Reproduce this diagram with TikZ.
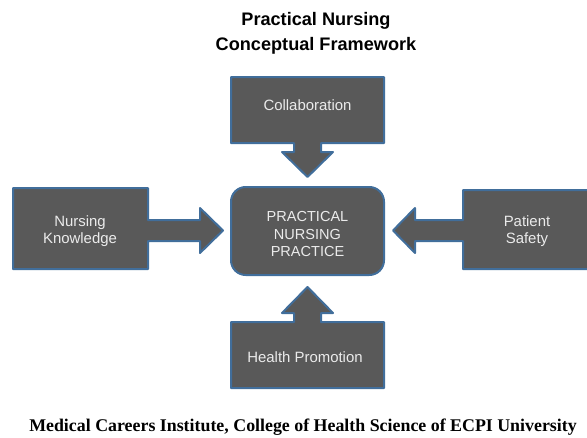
\documentclass[tikz,border=0pt]{standalone}
\usepackage{fontspec}
\setmainfont{Liberation Sans}
\newfontfamily\footfont{Liberation Serif}
\definecolor{boxfill}{RGB}{89,89,89}
\definecolor{boxline}{RGB}{65,110,155}
\definecolor{boxtext}{RGB}{235,235,235}
\begin{document}
\begin{tikzpicture}[x=0.75pt,y=-0.75pt,
  shapebox/.style={fill=boxfill,draw=boxline,line width=1.5pt,line join=round},
  boxlabel/.style={text=boxtext,font=\fontsize{11.2pt}{13pt}\selectfont,align=center,inner sep=0pt},
  titletext/.style={font=\fontsize{13.6pt}{19pt}\selectfont\bfseries,align=center,inner sep=0pt},
  foottext/.style={font=\footfont\fontsize{13.4pt}{15pt}\selectfont\bfseries,inner sep=0pt}]
\useasboundingbox (0,0) rectangle (587,437);
\begin{scope}
\clip (0,0) rectangle (587,437);
% top callout
\draw[shapebox] (231,77) -- (384,77) -- (384,143) -- (321,143) -- (321,152) -- (333,152) -- (307.5,177) -- (282,152) -- (294,152) -- (294,143) -- (231,143) -- cycle;
% bottom callout
\draw[shapebox] (231,388) -- (384,388) -- (384,322) -- (321,322) -- (321,313) -- (333,313) -- (307.5,287) -- (282,313) -- (294,313) -- (294,322) -- (231,322) -- cycle;
% left callout
\draw[shapebox] (13,188) -- (148,188) -- (148,220) -- (200,220) -- (200,208) -- (223,230.5) -- (200,253) -- (200,241) -- (148,241) -- (148,269) -- (13,269) -- cycle;
% right callout
\draw[shapebox] (595,190) -- (463,190) -- (463,220) -- (415,220) -- (415,208) -- (393,230.5) -- (415,253) -- (415,241) -- (463,241) -- (463,269) -- (595,269) -- cycle;
% centre
\draw[shapebox,rounded corners=11pt] (231,187) rectangle (384,275);
\end{scope}
\node[titletext] (title) at (316,33) {Practical Nursing\\Conceptual Framework};
\node[boxlabel] (collab) at (307.5,105) {Collaboration};
\node[boxlabel] (know) at (80,231) {Nursing\\Knowledge};
\node[boxlabel] (safety) at (527,231) {Patient\\Safety};
\node[boxlabel] (health) at (305,357) {Health Promotion};
\node[boxlabel,font=\fontsize{10.9pt}{12.8pt}\selectfont] (practice) at (307.5,234) {PRACTICAL\\NURSING\\PRACTICE};
\node[foottext] (foot) at (303,427) {Medical Careers Institute, College of Health Science of ECPI University};
\end{tikzpicture}
\end{document}
